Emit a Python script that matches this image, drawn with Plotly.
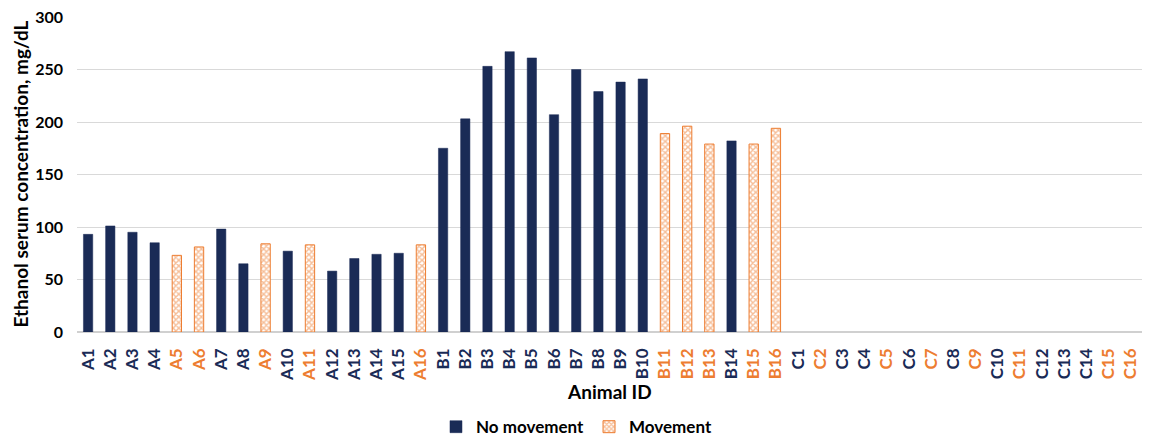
import plotly.graph_objects as go

NAVY = "#1A2B56"
ORANGE = "#ED7D31"

categories = [f"A{i}" for i in range(1, 17)] + [f"B{i}" for i in range(1, 17)] + [f"C{i}" for i in range(1, 17)]
values = [93, 101, 95, 85, 73, 81, 98, 65, 84, 77, 83, 58, 70, 74, 75, 83,
          175, 203, 253, 267, 261, 207, 250, 229, 238, 241, 189, 196, 179, 182, 179, 194] + [None] * 16
movement = [0, 0, 0, 0, 1, 1, 0, 0, 1, 0, 1, 0, 0, 0, 0, 1,
            0, 0, 0, 0, 0, 0, 0, 0, 0, 0, 1, 1, 1, 0, 1, 1,
            0, 1, 0, 0, 1, 0, 1, 0, 1, 0, 1, 0, 0, 0, 1, 1]

no_mov_y = [v if m == 0 else None for v, m in zip(values, movement)]
mov_y = [v if m == 1 else None for v, m in zip(values, movement)]

ticktext = [f"<span style='color:{ORANGE if m else NAVY}'>{c}</span>" for c, m in zip(categories, movement)]

FONT = "Lato"

fig = go.Figure()
fig.add_trace(go.Bar(
    x=categories, y=no_mov_y, name="No movement",
    marker=dict(color=NAVY, line=dict(color=NAVY, width=0.5)),
    width=0.42,
))
fig.add_trace(go.Bar(
    x=categories, y=mov_y, name="Movement",
    marker=dict(color="white", line=dict(color=ORANGE, width=1),
                pattern=dict(shape="x", fgcolor=ORANGE, bgcolor="white", size=4, solidity=0.6)),
    width=0.42,
))

# the page body has an 8px margin, so shift the figure's margins to compensate
fig.update_layout(
    width=1152, height=438,
    margin=dict(l=69, r=18, t=9, b=114, autoexpand=False),
    barmode="overlay",
    plot_bgcolor="white", paper_bgcolor="white",
    font=dict(family=FONT, color="#000000"),
    showlegend=True,
    legend=dict(orientation="h", x=0.469, xanchor="center", y=-0.302, yanchor="middle",
                font=dict(family=FONT, size=17, color="#000000", weight="bold"),
                itemwidth=30, tracegroupgap=0),
    xaxis=dict(
        type="category", categoryorder="array", categoryarray=categories,
        tickmode="array", tickvals=categories, ticktext=ticktext,
        tickangle=-90, tickfont=dict(family=FONT, size=17, color=NAVY, weight="bold"),
        range=[-0.5, 47.5], showgrid=False, showline=False, zeroline=False,
        ticks="", ticklabelstandoff=12, automargin=False, ticklabeloverflow="allow",
    ),
    yaxis=dict(
        range=[0, 300], dtick=50, showgrid=True, gridcolor="#D9D9D9", gridwidth=1,
        zeroline=True, zerolinecolor="#D0D0D0", zerolinewidth=1.5,
        tickfont=dict(family=FONT, size=16, color="#000000", weight="bold"),
        ticklabelstandoff=13, automargin=False, showline=False, ticklabeloverflow="allow",
    ),
    annotations=[
        dict(text="Animal ID", x=0.5, y=-0.19, xref="paper", yref="paper",
             xanchor="center", yanchor="middle", showarrow=False,
             font=dict(family=FONT, size=19, color="#000000", weight="bold")),
        dict(text="Ethanol serum concentration, mg/dL", x=-0.0535, y=0.5, xref="paper", yref="paper",
             xanchor="center", yanchor="middle", showarrow=False, textangle=-90,
             font=dict(family=FONT, size=19, color="#000000", weight="bold")),
    ],
)

fig.write_html("out.html")
